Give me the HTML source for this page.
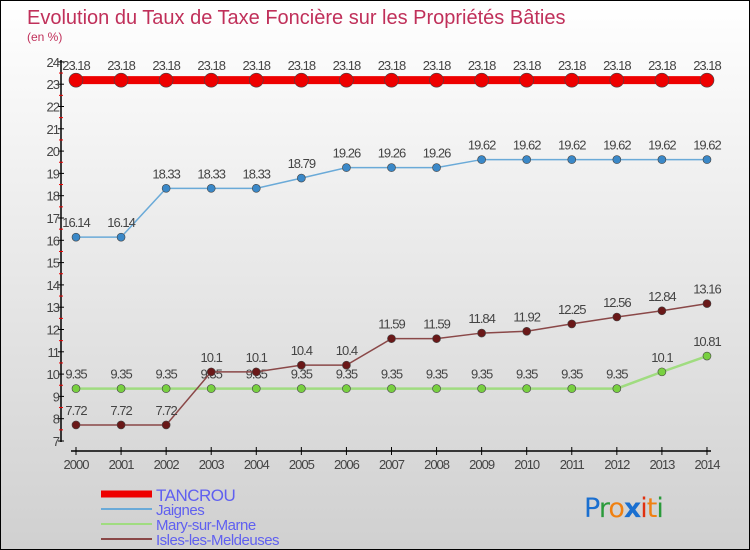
<!DOCTYPE html>
<html><head><meta charset="utf-8"><style>
body{margin:0;}
#wrap{width:748px;height:548px;border:1px solid #000;background:linear-gradient(#fff,#d0d0d0);position:relative;overflow:hidden;font-family:"Liberation Sans",sans-serif;}
</style></head><body>
<div id="wrap">
<svg id="svg" width="748" height="548" style="position:absolute;left:0;top:0">
<text x="26" y="23" font-size="20" fill="#c0305a">Evolution du Taux de Taxe Foncière sur les Propriétés Bâties</text>
<text x="26" y="40" font-size="12" fill="#c0305a">(en %)</text>
<g id="axes"></g><g id="series"></g><g id="legend"></g>
<text x="583" y="516" font-size="27" font-family="DejaVu Sans, sans-serif" letter-spacing="-1"><tspan fill="#1a6fd0">P</tspan><tspan fill="#2a9a3a">r</tspan><tspan fill="#f08010">o</tspan><tspan fill="#1a6fd0" font-weight="bold">x</tspan><tspan fill="#e03010">i</tspan><tspan fill="#f08010">t</tspan><tspan fill="#2a9a3a">i</tspan></text>
</svg></div>
<script>
const years=[2000,2001,2002,2003,2004,2005,2006,2007,2008,2009,2010,2011,2012,2013,2014];
const tancrou=[23.18,23.18,23.18,23.18,23.18,23.18,23.18,23.18,23.18,23.18,23.18,23.18,23.18,23.18,23.18];
const jaignes=[16.14,16.14,18.33,18.33,18.33,18.79,19.26,19.26,19.26,19.62,19.62,19.62,19.62,19.62,19.62];
const mary=[9.35,9.35,9.35,9.35,9.35,9.35,9.35,9.35,9.35,9.35,9.35,9.35,9.35,10.1,10.81];
const isles=[7.72,7.72,7.72,10.1,10.1,10.4,10.4,11.59,11.59,11.84,11.92,12.25,12.56,12.84,13.16];
const yTicks=[7,8,9,10,11,12,13,14,15,16,17,18,19,20,21,22,23,24];
const NS="http://www.w3.org/2000/svg";
const x=i=>75+i*45.07, y=v=>440-(v-7)*22.3;
function mk(t,a,p){const e=document.createElementNS(NS,t);for(const k in a)e.setAttribute(k,a[k]);p.appendChild(e);return e;}
const ax=document.getElementById('axes');
let l=mk('line',{x1:60,y1:59,x2:60,y2:441,stroke:'#000','stroke-width':1.5},ax);


l=mk('line',{x1:70,y1:450,x2:710,y2:450,stroke:'#000','stroke-width':1.5},ax);


yTicks.forEach(v=>{
 mk('line',{x1:57,y1:y(v),x2:63,y2:y(v),stroke:'#000'},ax);
 if(v<24)mk('line',{x1:58,y1:y(v+0.5),x2:62,y2:y(v+0.5),stroke:'#e00'},ax);
 const t=mk('text',{x:58,y:y(v)+5,'text-anchor':'end','font-size':13,fill:'#444','letter-spacing':'-1'},ax);
 t.textContent=v;
 
 
});
years.forEach((yr,i)=>{
 mk('line',{x1:x(i),y1:446,x2:x(i),y2:454,stroke:'#000'},ax);
 const t=mk('text',{x:x(i),y:468,'text-anchor':'middle','font-size':13,fill:'#444','letter-spacing':'-1'},ax);
 t.textContent=yr;
 
 
});
const sg=document.getElementById('series');
const series=[[jaignes,'#6aaad8','#3a88c8',1.5,4,'jaignes'],[mary,'#a0dc80','#78d040',2.5,4,'mary-sur-marne'],[isles,'#8a4848','#6a1818',1.5,4,'isles-les-meldeuses'],[tancrou,'#ee0000','#ee0000',8,7,'tancrou']];
series.forEach(([d,lc,pc,w,r,n])=>{
 const g=mk('g',{},sg);
 
 
 const p=mk('polyline',{points:d.map((v,i)=>x(i)+','+y(v)).join(' '),fill:'none',stroke:lc,'stroke-width':w},g);
 
 
 d.forEach((v,i)=>{
  const c=mk('circle',{cx:x(i),cy:y(v),r:r,fill:pc,stroke:'#444','stroke-width':0.6},g);
  
  
  const t=mk('text',{x:x(i),y:y(v)-10,'text-anchor':'middle','font-size':13,fill:'#444','letter-spacing':'-1'},g);
  t.textContent=v;
  
  
 });
});
const lg=document.getElementById('legend');
[['TANCROU','#ee0000',7],['Jaignes','#6aaad8',2],['Mary-sur-Marne','#a0dc80',2],['Isles-les-Meldeuses','#8a4848',2]].forEach(([n,c,w],i)=>{
 const yy=493+i*15;
 const e=mk('line',{x1:100,y1:yy,x2:151,y2:yy,stroke:c,'stroke-width':w},lg);
 
 
 const t=mk('text',{x:155,y:yy+(i?6:7),'font-size':i?15:17,fill:'#6060f0','letter-spacing':'-0.5'},lg);
 t.textContent=n;
 
 
});
</script>
</body></html>
